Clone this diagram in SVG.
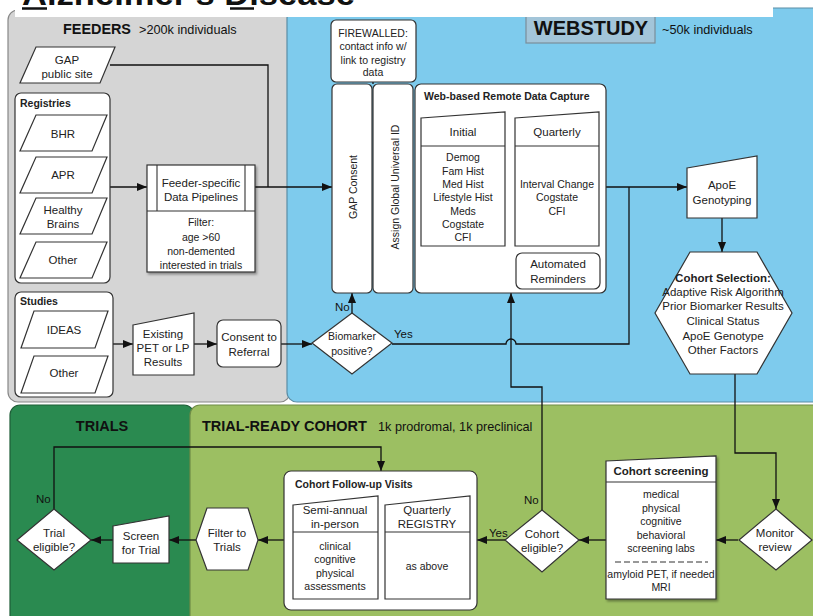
<svg xmlns="http://www.w3.org/2000/svg" width="813" height="616" viewBox="0 0 813 616">
<defs>
<style>
.box{fill:#fff;stroke:#333;stroke-width:1.2}
.ln{fill:none;stroke:#333;stroke-width:1.1}
.t{font-family:"Liberation Sans",Arial,sans-serif;font-size:10.5px;fill:#222;text-anchor:middle}
.s{font-size:11.5px}
.b{font-weight:bold}
.l{text-anchor:start}
.h{font-family:"Liberation Sans",Arial,sans-serif;font-weight:bold;fill:#111}
.sub{font-family:"Liberation Sans",Arial,sans-serif;font-size:12.7px;fill:#111}
.conn{fill:none;stroke:#111;stroke-width:1.3}
.lbl{font-family:"Liberation Sans",Arial,sans-serif;font-size:11.5px;fill:#111}
</style>
<marker id="arr" viewBox="0 0 10 8" refX="10" refY="4" markerWidth="10" markerHeight="8" markerUnits="userSpaceOnUse" orient="auto">
<path d="M0,0 L10,4 L0,8 z" fill="#111"/>
</marker>
<filter id="sh" x="-10%" y="-10%" width="130%" height="130%">
<feDropShadow dx="1.5" dy="2" stdDeviation="1.2" flood-color="#000" flood-opacity="0.35"/>
</filter>
</defs>
<rect width="813" height="616" fill="#fff"/>

<g id="panels">
<rect x="8" y="10" width="282" height="392" rx="10" fill="#d5d5d5" stroke="#888" stroke-width="1.2"/>
<rect x="287" y="8" width="540" height="394" rx="10" fill="#7ecbed" stroke="#5b8ea6" stroke-width="1.2"/>
<rect x="10" y="405" width="184" height="230" rx="10" fill="#2a8a50" stroke="#1e5e37" stroke-width="1.2"/>
<rect x="190" y="405" width="640" height="230" rx="10" fill="#9cbf62" stroke="#6f8c47" stroke-width="1.2"/>
</g>

<g id="title">
<rect x="15" y="0" width="758" height="17" fill="#fff"/>
<text x="22" y="5" class="h" font-size="32" textLength="333" lengthAdjust="spacingAndGlyphs">Alzheimer's Disease</text>
<line x1="22" y1="8.5" x2="47" y2="8.5" stroke="#111" stroke-width="2.5"/>
<line x1="230" y1="8.5" x2="254" y2="8.5" stroke="#111" stroke-width="2.5"/>
</g>

<g id="panel-labels">
<text x="63" y="34" class="h" font-size="14.4">FEEDERS</text>
<text x="139" y="34" class="sub">&gt;200k individuals</text>
<rect x="526" y="12" width="129" height="31" fill="#a3c5d9" stroke="#7a8e9a" stroke-width="1.2"/>
<rect x="520" y="0" width="140" height="17" fill="#fff"/>
<text x="591" y="35" class="h" font-size="20" text-anchor="middle">WEBSTUDY</text>
<text x="662" y="34" class="sub">~50k individuals</text>
<text x="102" y="431" class="h" font-size="14.5" text-anchor="middle">TRIALS</text>
<text x="202" y="431" class="h" font-size="14.5">TRIAL-READY COHORT</text>
<text x="378" y="431" class="sub">1k prodromal, 1k preclinical</text>
</g>

<g id="connectors">
<path class="conn" d="M110,65 H268 V187"/>
<path class="conn" d="M110,187 H147" marker-end="url(#arr)"/>
<path class="conn" d="M255,187 H332" marker-end="url(#arr)"/>
<path class="conn" d="M113,344 H133" marker-end="url(#arr)"/>
<path class="conn" d="M194,344 H217" marker-end="url(#arr)"/>
<path class="conn" d="M281,344 H312" marker-end="url(#arr)"/>
<path class="conn" d="M352,313 V293" marker-end="url(#arr)"/>
<path class="conn" d="M392,344 H506 A5,5 0 0 1 516,344 H629 V187"/>
<path class="conn" d="M606,187 H687" marker-end="url(#arr)"/>
<path class="conn" d="M722,218 V252" marker-end="url(#arr)"/>
<path class="conn" d="M735,374 V453 H776 V509" marker-end="url(#arr)"/>
<path class="conn" d="M738,540 H716" marker-end="url(#arr)"/>
<path class="conn" d="M606,540 H579" marker-end="url(#arr)"/>
<path class="conn" d="M505,540 H477" marker-end="url(#arr)"/>
<path class="conn" d="M542,510 V387 H511 V293" marker-end="url(#arr)"/>
<path class="conn" d="M284,540 H258" marker-end="url(#arr)"/>
<path class="conn" d="M196,540 H169" marker-end="url(#arr)"/>
<path class="conn" d="M113,540 H91" marker-end="url(#arr)"/>
<path class="conn" d="M54,509 V447 H381 V471" marker-end="url(#arr)"/>
<path class="conn" d="M373,82 V84"/>
<text x="335" y="311" class="lbl">No</text>
<text x="394" y="338" class="lbl">Yes</text>
<text x="524" y="504" class="lbl">No</text>
<text x="489" y="537" class="lbl">Yes</text>
<text x="36" y="503" class="lbl">No</text>
</g>

<g id="gap-public-site">
<polygon class="box" points="36,47 115,47 100,83 20,83"/>
<text x="67" y="64" class="t s">GAP</text>
<text x="67" y="78" class="t s">public site</text>
</g>

<g id="registries">
<rect class="box" x="15" y="93" width="95" height="190" rx="6"/>
<text x="20" y="107" class="t b l">Registries</text>
<polygon class="box" points="36,115 107,115 92,151 20,151"/>
<text x="63" y="138" class="t s">BHR</text>
<polygon class="box" points="36,157 107,157 92,193 20,193"/>
<text x="63" y="179" class="t s">APR</text>
<polygon class="box" points="36,198 107,198 92,234 20,234"/>
<text x="63" y="214" class="t s">Healthy</text>
<text x="63" y="228" class="t s">Brains</text>
<polygon class="box" points="36,242 107,242 92,278 20,278"/>
<text x="63" y="264" class="t s">Other</text>
</g>

<g id="studies">
<rect class="box" x="15" y="292" width="98" height="105" rx="6"/>
<text x="20" y="305" class="t b l">Studies</text>
<polygon class="box" points="34,311 108,311 95,348 21,348"/>
<text x="64" y="334" class="t s">IDEAS</text>
<polygon class="box" points="34,356 108,356 95,393 21,393"/>
<text x="64" y="377" class="t s">Other</text>
</g>

<g id="pipelines">
<rect class="box" x="147" y="165" width="108" height="107" filter="url(#sh)"/>
<path class="ln" d="M157,165 V211 M245,165 V211 M147,211 H255"/>
<text x="201" y="187" class="t s">Feeder-specific</text>
<text x="201" y="201" class="t s">Data Pipelines</text>
<text x="201" y="226" class="t">Filter:</text>
<text x="201" y="241" class="t">age &gt;60</text>
<text x="201" y="255" class="t">non-demented</text>
<text x="201" y="269" class="t">interested in trials</text>
</g>

<g id="existing-results">
<polygon class="box" points="133,325 194,313 194,375 133,375"/>
<text x="163" y="338" class="t s">Existing</text>
<text x="163" y="352" class="t s">PET or LP</text>
<text x="163" y="366" class="t s">Results</text>
</g>

<g id="consent-referral">
<rect class="box" x="217" y="320" width="64" height="47" rx="6"/>
<text x="249" y="341" class="t s">Consent to</text>
<text x="249" y="356" class="t s">Referral</text>
</g>

<g id="biomarker">
<polygon class="box" points="352,313 392,343 352,374 312,343"/>
<text x="352" y="340" class="t">Biomarker</text>
<text x="352" y="355" class="t">positive?</text>
</g>

<g id="firewalled">
<rect class="box" x="331" y="20" width="85" height="62" rx="5"/>
<text x="373" y="37" class="t" font-size="10">FIREWALLED:</text>
<text x="373" y="50" class="t" font-size="10">contact info w/</text>
<text x="373" y="64" class="t" font-size="10">link to registry</text>
<text x="373" y="76" class="t" font-size="10">data</text>
</g>

<g id="gap-consent">
<rect class="box" x="332" y="84" width="40" height="209" rx="5"/>
<text transform="translate(357,187) rotate(-90)" class="t" font-size="12">GAP Consent</text>
</g>

<g id="global-id">
<rect class="box" x="373" y="84" width="40" height="209" rx="5"/>
<text transform="translate(399,187) rotate(-90)" class="t" font-size="12">Assign Global Universal ID</text>
</g>

<g id="data-capture">
<rect class="box" x="415" y="84" width="191" height="209" rx="6"/>
<text x="424" y="100" class="t b l" font-size="10">Web-based Remote Data Capture</text>
<polygon class="box" points="421,118 505,112 505,246 421,246"/>
<path class="ln" d="M421,146 H505"/>
<text x="463" y="136" class="t s">Initial</text>
<text x="463" y="161" class="t">Demog</text>
<text x="463" y="175" class="t">Fam Hist</text>
<text x="463" y="188" class="t">Med Hist</text>
<text x="463" y="201" class="t">Lifestyle Hist</text>
<text x="463" y="215" class="t">Meds</text>
<text x="463" y="228" class="t">Cogstate</text>
<text x="463" y="241" class="t">CFI</text>
<polygon class="box" points="515,118 599,112 599,246 515,246"/>
<path class="ln" d="M515,146 H599"/>
<text x="557" y="136" class="t s">Quarterly</text>
<text x="557" y="188" class="t">Interval Change</text>
<text x="557" y="201" class="t">Cogstate</text>
<text x="557" y="215" class="t">CFI</text>
<rect class="box" x="516" y="253" width="84" height="36" rx="6"/>
<text x="558" y="268" class="t s">Automated</text>
<text x="558" y="283" class="t s">Reminders</text>
</g>

<g id="apoe">
<polygon class="box" points="687,168 757,156 757,218 687,218"/>
<text x="722" y="189" class="t s">ApoE</text>
<text x="722" y="204" class="t s">Genotyping</text>
</g>

<g id="cohort-selection">
<polygon class="box" points="690,252 757,252 792,313 757,374 690,374 655,313"/>
<text x="723" y="282" class="t b s">Cohort Selection:</text>
<text x="723" y="296" class="t s">Adaptive Risk Algorithm</text>
<text x="723" y="310" class="t s">Prior Biomarker Results</text>
<text x="723" y="325" class="t s">Clinical Status</text>
<text x="723" y="340" class="t s">ApoE Genotype</text>
<text x="723" y="354" class="t s">Other Factors</text>
</g>

<g id="monitor-review">
<polygon class="box" points="776,509 812,540 776,570 739,540"/>
<text x="775" y="537" class="t s">Monitor</text>
<text x="775" y="551" class="t s">review</text>
</g>

<g id="cohort-screening">
<polygon class="box" points="606,461 716,456 716,599 606,599" filter="url(#sh)"/>
<path class="ln" d="M606,482 H716"/>
<text x="661" y="475" class="t b s">Cohort screening</text>
<text x="661" y="498" class="t">medical</text>
<text x="661" y="512" class="t">physical</text>
<text x="661" y="525" class="t">cognitive</text>
<text x="661" y="539" class="t">behavioral</text>
<text x="661" y="552" class="t">screening labs</text>
<path d="M615,562 H708" stroke="#333" stroke-width="1.1" stroke-dasharray="6,3" fill="none"/>
<text x="661" y="578" class="t">amyloid PET, if needed</text>
<text x="661" y="591" class="t">MRI</text>
</g>

<g id="cohort-eligible">
<polygon class="box" points="542,510 579,540 542,572 505,540"/>
<text x="542" y="538" class="t s">Cohort</text>
<text x="542" y="552" class="t s">eligible?</text>
</g>

<g id="follow-up">
<rect class="box" x="284" y="471" width="193" height="139" rx="7"/>
<text x="295" y="488" class="t b l">Cohort Follow-up Visits</text>
<polygon class="box" points="293,505 378,496 378,599 293,599"/>
<path class="ln" d="M293,532 H378"/>
<text x="335" y="514" class="t s">Semi-annual</text>
<text x="335" y="528" class="t s">in-person</text>
<text x="335" y="550" class="t">clinical</text>
<text x="335" y="563" class="t">cognitive</text>
<text x="335" y="577" class="t">physical</text>
<text x="335" y="590" class="t">assessments</text>
<polygon class="box" points="385,505 470,496 470,599 385,599"/>
<path class="ln" d="M385,532 H470"/>
<text x="427" y="514" class="t s">Quarterly</text>
<text x="427" y="528" class="t s">REGISTRY</text>
<text x="427" y="570" class="t">as above</text>
</g>

<g id="filter-trials">
<polygon class="box" points="207,508 248,508 258,540 248,570 207,570 196,540"/>
<text x="227" y="537" class="t s">Filter to</text>
<text x="227" y="551" class="t s">Trials</text>
</g>

<g id="screen-trial">
<polygon class="box" points="113,526 169,516 169,563 113,563"/>
<text x="141" y="540" class="t s">Screen</text>
<text x="141" y="554" class="t s">for Trial</text>
</g>

<g id="trial-eligible">
<polygon class="box" points="54,509 91,540 54,570 17,540"/>
<text x="54" y="537" class="t s">Trial</text>
<text x="54" y="551" class="t s">eligible?</text>
</g>
</svg>
